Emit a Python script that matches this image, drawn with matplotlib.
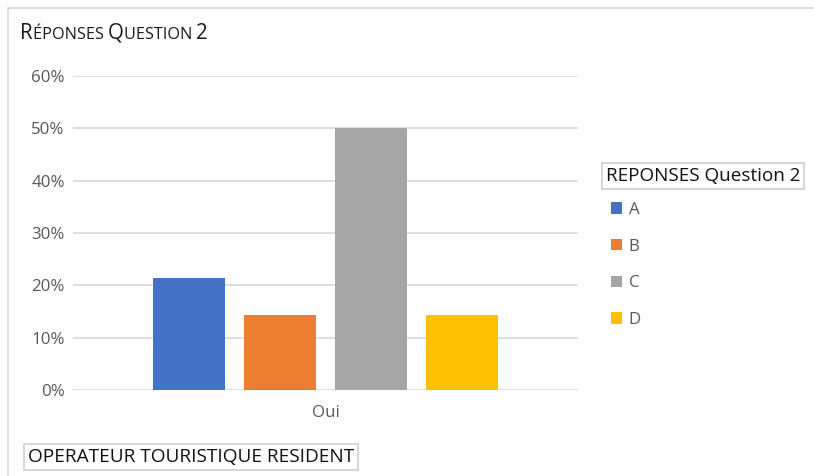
import matplotlib
matplotlib.use("Agg")
import matplotlib.pyplot as plt
from matplotlib.patches import Rectangle, Patch
from matplotlib.ticker import PercentFormatter

plt.rcParams['font.family'] = ['Open Sans', 'DejaVu Sans']

# Réponses question 2, opérateurs touristiques résidents
categories = ['A', 'B', 'C', 'D']
shares = [3 / 14, 2 / 14, 7 / 14, 2 / 14]
colors = ['#4472C4', '#ED7D31', '#A5A5A5', '#FFC000']
group_label = 'Oui'
y_ticks = [0, 0.1, 0.2, 0.3, 0.4, 0.5, 0.6]

W, H = 814, 476
fig = plt.figure(figsize=(W / 100, H / 100), dpi=100)

def px(x, y):
    # pixel coords (top-left origin) -> figure fraction
    return x / W, 1 - y / H

# outer chart border
fig.patches.append(Rectangle(px(8, 490), (W + 20) / W, 482 / H,
                             transform=fig.transFigure, fill=False,
                             edgecolor='#d9d9d9', lw=1.2))

ax = fig.add_axes([73 / W, (H - 390) / H, 505 / W, (390 - 76) / H])
offsets = [-1.5, -0.5, 0.5, 1.5]
for off, val, col in zip(offsets, shares, colors):
    ax.bar(off, val, width=0.79, color=col, zorder=3)
ax.set_xlim(-2.775, 2.775)
ax.set_ylim(0, 0.6)
ax.set_yticks(y_ticks)
ax.yaxis.set_major_formatter(PercentFormatter(1.0, decimals=0))
ax.set_xticks([0])
ax.set_xticklabels([group_label])
ax.grid(axis='y', color='#d9d9d9', lw=1.2, zorder=0)
for s in ax.spines.values():
    s.set_visible(False)
ax.tick_params(length=0, labelsize=12.2, labelcolor='#595959')
ax.tick_params(axis='y', pad=6)
ax.tick_params(axis='x', pad=11)

# title in small caps
renderer = fig.canvas.get_renderer()
x0 = 20 / W
pieces = [('R', 14.8), ('ÉPONSES ', 11.7), ('Q', 14.8), ('UESTION ', 11.7), ('2', 14.8)]
for txt, fs in pieces:
    t = fig.text(x0, 1 - 39 / H, txt, fontsize=fs, color='#1a1a1a',
                 va='baseline', ha='left')
    bb = t.get_window_extent(renderer)
    x0 += bb.width / W

# legend with its boxed title
fig.text(*px(606, 176), 'REPONSES Question 2', fontsize=13.6, color='#111111',
         va='center', ha='left',
         bbox=dict(boxstyle='square,pad=0.2', fc='white', ec='#d0d0d0', lw=1.2))
handles = [Patch(facecolor=c, edgecolor='none', label=l)
           for c, l in zip(colors, categories)]
fig.legend(handles=handles, loc='upper left', bbox_to_anchor=px(611, 202),
           frameon=False, fontsize=12.2, labelcolor='#595959',
           handlelength=0.65, handleheight=0.65, handletextpad=0.4,
           labelspacing=1.22, borderaxespad=0, borderpad=0)

# series label box
fig.text(*px(28, 457), 'OPERATEUR TOURISTIQUE RESIDENT', fontsize=13.7, color='#111111',
         va='center', ha='left',
         bbox=dict(boxstyle='square,pad=0.2', fc='white', ec='#d0d0d0', lw=1.2))

fig.savefig('out.png', dpi=100)
